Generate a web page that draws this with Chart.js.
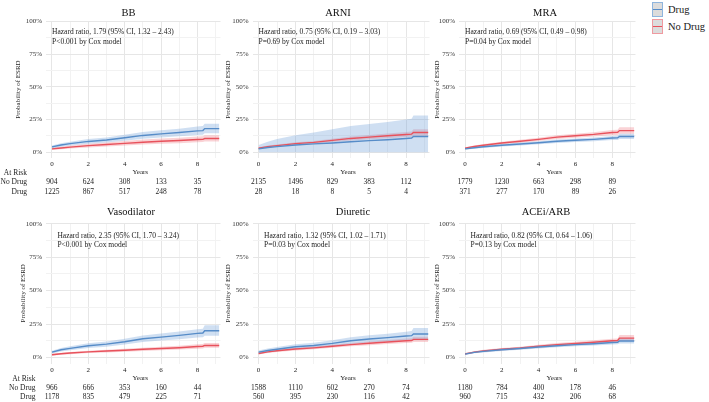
<!DOCTYPE html>
<html>
<head>
<meta charset="utf-8">
<script src="https://cdn.jsdelivr.net/npm/chart.js@4.4.1/dist/chart.umd.min.js"></script>
<style>
  body { margin: 0; background: #fff; width: 709px; height: 402px; position: relative; overflow: hidden; font-family: "Liberation Serif", serif; }
  canvas { position: absolute; }
  .key { position: absolute; left: 652px; width: 9px; height: 13px; background: #dcdcdc; }
  .key::after { content: ""; position: absolute; left: 0; right: 0; top: 6px; height: 1.3px; background: inherit; }
  .key.drug { top: 2px; border: 1px solid #8fb5dd; }
  .key.drug::after { background: rgb(86,140,200); }
  .key.nodrug { top: 19px; border: 1px solid #ef9aa0; }
  .key.nodrug::after { background: rgb(232,82,92); }
  .lab { position: absolute; left: 668px; font-size: 10.5px; color: #1a1a1a; line-height: 12px; }
</style>
</head>
<body>
<div class="key drug"></div><div class="lab" style="top:4px">Drug</div>
<div class="key nodrug"></div><div class="lab" style="top:21px">No Drug</div>
<script>
var years = [0, 0.5, 1, 2, 3, 4, 5, 6, 7, 8, 8.3, 8.4, 9.2];
var riskYears = [0, 2, 4, 6, 8];

var names = ["BB", "ARNI", "MRA", "Vasodilator", "Diuretic", "ACEi/ARB"];
var hrLines = [
  "Hazard ratio, 1.79 (95% CI, 1.32 \u2013 2.43)",
  "Hazard ratio, 0.75 (95% CI, 0.19 \u2013 3.03)",
  "Hazard ratio, 0.69 (95% CI, 0.49 \u2013 0.98)",
  "Hazard ratio, 2.35 (95% CI, 1.70 \u2013 3.24)",
  "Hazard ratio, 1.32 (95% CI, 1.02 \u2013 1.71)",
  "Hazard ratio, 0.82 (95% CI, 0.64 \u2013 1.06)"
];
var pLines = ["P<0.001 by Cox model", "P=0.69 by Cox model", "P=0.04 by Cox model",
              "P<0.001 by Cox model", "P=0.03 by Cox model", "P=0.13 by Cox model"];

// cumulative probability of ESRD, %
var bbDrug     = [4, 5.5, 6.5, 8.2, 9.3, 11, 12.8, 14, 15, 16.3, 16.5, 18, 18];
var bbDrugLo   = [3, 4.2, 5.1, 6.5, 7.4, 8.8, 10.3, 11.3, 12.1, 13.2, 13.4, 14.5, 14.5];
var bbDrugHi   = [5.1, 6.8, 8, 10, 11.3, 13.3, 15.4, 16.8, 18, 19.6, 20, 21.8, 21.8];
var bbNoDrug   = [2.5, 3.2, 3.8, 5, 5.8, 6.7, 7.6, 8.3, 8.9, 9.7, 9.8, 10.4, 10.4];
var bbNoDrugLo = [1.7, 2.2, 2.7, 3.6, 4.3, 5, 5.8, 6.4, 6.9, 7.6, 7.7, 8.2, 8.2];
var bbNoDrugHi = [3.3, 4.2, 5, 6.4, 7.4, 8.5, 9.6, 10.4, 11.1, 12, 12.1, 12.9, 12.9];

var arniDrug     = [2.5, 3.5, 4.2, 5.5, 6.3, 7, 8, 8.8, 9.5, 10.5, 10.8, 12, 12];
var arniDrugLo   = [0, 0, 0, 0, 0, 0, 0, 0, 0, 0, 0, 0, 0];
var arniDrugHi   = [5.5, 8, 10, 13, 15, 17.5, 20, 21.5, 23, 25, 25.5, 28, 28];
var arniNoDrug   = [3, 4.2, 5, 6.5, 7.5, 9, 10.5, 11.5, 12.5, 13.5, 13.8, 15, 15];
var arniNoDrugLo = [2.3, 3.4, 4.2, 5.5, 6.4, 7.7, 9, 9.9, 10.7, 11.5, 11.8, 12.5, 12.5];
var arniNoDrugHi = [3.7, 5, 5.8, 7.5, 8.6, 10.3, 12, 13.1, 14.3, 15.5, 15.8, 17.5, 17.5];

var mraDrug     = [2.5, 3.4, 4.1, 5.3, 6.2, 7.2, 8.3, 9.1, 9.8, 10.8, 11, 12, 12];
var mraDrugLo   = [1.8, 2.6, 3.2, 4.3, 5.1, 6, 7, 7.7, 8.3, 9.2, 9.3, 10, 10];
var mraDrugHi   = [3.2, 4.2, 5, 6.3, 7.3, 8.4, 9.6, 10.5, 11.3, 12.4, 12.7, 14, 14];
var mraNoDrug   = [3, 4.3, 5.3, 7, 8.3, 9.8, 11.5, 12.6, 13.6, 15, 15.2, 16.5, 16.5];
var mraNoDrugLo = [2.3, 3.5, 4.4, 6, 7.2, 8.6, 10.1, 11.1, 11.9, 13, 13.2, 14, 14];
var mraNoDrugHi = [3.7, 5.1, 6.2, 8, 9.4, 11, 12.9, 14.1, 15.3, 17, 17.2, 19, 19];

var vasoDrug     = [4, 5.8, 6.8, 8.8, 10, 11.8, 14, 15.2, 16.5, 18, 18.3, 20, 20];
var vasoDrugLo   = [3, 4.5, 5.4, 7.1, 8.1, 9.7, 11.6, 12.6, 13.7, 15, 15.2, 16.3, 16.3];
var vasoDrugHi   = [5.1, 7.1, 8.3, 10.6, 12, 14, 16.5, 17.9, 19.4, 21.1, 21.5, 24, 24];
var vasoNoDrug   = [2, 2.8, 3.3, 4.2, 4.8, 5.4, 6.1, 6.7, 7.3, 8.2, 8.4, 9, 9];
var vasoNoDrugLo = [1.3, 2, 2.5, 3.3, 3.8, 4.3, 4.9, 5.4, 5.9, 6.6, 6.8, 7.2, 7.2];
var vasoNoDrugHi = [2.7, 3.6, 4.1, 5.1, 5.8, 6.5, 7.3, 8, 8.7, 9.8, 10, 10.8, 10.8];

var diuDrug     = [4, 5.2, 6.2, 8, 9, 10.5, 12.5, 13.8, 14.8, 16, 16.3, 17.5, 17.5];
var diuDrugLo   = [2.8, 3.8, 4.7, 6.2, 7.1, 8.4, 10.1, 11.2, 12, 13, 13.2, 13.7, 13.7];
var diuDrugHi   = [5.3, 6.7, 7.8, 9.9, 11, 12.8, 15.1, 16.6, 17.8, 19.3, 19.7, 22, 22];
var diuNoDrug   = [3, 4.2, 5, 6.3, 7.2, 8.4, 9.6, 10.6, 11.6, 12.5, 12.7, 13.5, 13.5];
var diuNoDrugLo = [2.3, 3.4, 4.1, 5.3, 6.1, 7.2, 8.3, 9.2, 10.1, 10.9, 11, 11.5, 11.5];
var diuNoDrugHi = [3.7, 5, 5.9, 7.3, 8.3, 9.6, 10.9, 12, 13.1, 14.1, 14.4, 15.5, 15.5];

var aceDrug     = [2.5, 3.8, 4.6, 5.8, 6.7, 7.8, 8.8, 9.6, 10.3, 11.2, 11.4, 12.3, 12.3];
var aceDrugLo   = [1.9, 3.1, 3.8, 4.9, 5.7, 6.7, 7.6, 8.3, 8.9, 9.7, 9.9, 10.5, 10.5];
var aceDrugHi   = [3.1, 4.5, 5.4, 6.7, 7.7, 8.9, 10, 10.9, 11.7, 12.7, 12.9, 14.2, 14.2];
var aceNoDrug   = [2.7, 4, 4.9, 6.2, 7.1, 8.4, 9.6, 10.5, 11.4, 12.5, 12.7, 14.5, 14.5];
var aceNoDrugLo = [2.1, 3.3, 4.1, 5.3, 6.1, 7.3, 8.4, 9.2, 10, 11, 11.2, 12.3, 12.3];
var aceNoDrugHi = [3.3, 4.7, 5.7, 7.1, 8.1, 9.5, 10.8, 11.8, 12.8, 14, 14.2, 16.8, 16.8];

// numbers at risk
var bbRiskNoDrug   = [904, 624, 308, 133, 35];
var bbRiskDrug     = [1225, 867, 517, 248, 78];
var arniRiskNoDrug = [2135, 1496, 829, 383, 112];
var arniRiskDrug   = [28, 18, 8, 5, 4];
var mraRiskNoDrug  = [1779, 1230, 663, 298, 89];
var mraRiskDrug    = [371, 277, 170, 89, 26];
var vasoRiskNoDrug = [966, 666, 353, 160, 44];
var vasoRiskDrug   = [1178, 835, 479, 225, 71];
var diuRiskNoDrug  = [1588, 1110, 602, 270, 74];
var diuRiskDrug    = [560, 395, 230, 116, 42];
var aceRiskNoDrug  = [1180, 784, 400, 178, 46];
var aceRiskDrug    = [960, 715, 432, 206, 68];

var curves = [
  [bbDrug, bbDrugLo, bbDrugHi, bbNoDrug, bbNoDrugLo, bbNoDrugHi],
  [arniDrug, arniDrugLo, arniDrugHi, arniNoDrug, arniNoDrugLo, arniNoDrugHi],
  [mraDrug, mraDrugLo, mraDrugHi, mraNoDrug, mraNoDrugLo, mraNoDrugHi],
  [vasoDrug, vasoDrugLo, vasoDrugHi, vasoNoDrug, vasoNoDrugLo, vasoNoDrugHi],
  [diuDrug, diuDrugLo, diuDrugHi, diuNoDrug, diuNoDrugLo, diuNoDrugHi],
  [aceDrug, aceDrugLo, aceDrugHi, aceNoDrug, aceNoDrugLo, aceNoDrugHi]
];
var risks = [
  [bbRiskNoDrug, bbRiskDrug], [arniRiskNoDrug, arniRiskDrug], [mraRiskNoDrug, mraRiskDrug],
  [vasoRiskNoDrug, vasoRiskDrug], [diuRiskNoDrug, diuRiskDrug], [aceRiskNoDrug, aceRiskDrug]
];

// page geometry
var rows = [
  {top: 0, h: 200, plotT: 21, plotB: 158, titleY: 13.5, yearsY: 172.3, riskY: [173, 182.3, 191.7], riskRight: 27, annotX: 0, annotY: [91.7, 84.6]},
  {top: 200, h: 202, plotT: 223, plotB: 363.5, titleY: 212.5, yearsY: 377.7, riskY: [378.7, 387.7, 397], riskRight: 35.5, annotX: 0.3, annotY: [90.7, 83.7]}
];
var cols = [
  {left: 0, w: 222, plotL: 46, plotR: 220.5},
  {left: 222, w: 209, plotL: 252.5, plotR: 429.5},
  {left: 431, w: 214, plotL: 459, plotR: 635.5}
];
var yTitleX = [18, 228, 437, 22.7, 228, 437];
var titleX = [128.5, 338, 545, 131, 353, 546];

var blue = 'rgb(86,140,200)', blueBand = 'rgba(105,155,215,0.32)';
var red = 'rgb(232,82,92)', redBand = 'rgba(240,110,120,0.3)';
var serif = "'Liberation Serif', 'Times New Roman', serif";

Chart.defaults.font.family = serif;
Chart.defaults.color = '#333';

function pts(vals) {
  return years.map(function(t, i) { return {x: t, y: vals[i]}; });
}
function line(vals, color) {
  return {data: pts(vals), borderColor: color, borderWidth: 1.4, pointRadius: 0, fill: false, tension: 0};
}
function band(vals, color) {
  return {data: pts(vals), borderWidth: 0, pointRadius: 0, backgroundColor: color, fill: '+1', tension: 0};
}
function edge(vals) {
  return {data: pts(vals), borderWidth: 0, pointRadius: 0, fill: false, tension: 0};
}

var kmText = {
  id: 'kmText',
  afterDraw: function(chart, args, o) {
    var ctx = chart.ctx, xs = chart.scales.x, ys = chart.scales.y, ca = chart.chartArea;
    ctx.save();
    ctx.textBaseline = 'middle';
    ctx.fillStyle = '#111';
    ctx.textAlign = 'center';
    ctx.font = '10.5px ' + serif;
    ctx.fillText(o.title, o.titleX - o.left, o.titleY - o.top);

    ctx.fillStyle = '#1a1a1a';
    ctx.textAlign = 'left';
    ctx.font = '7.5px ' + serif;
    ctx.fillText(o.hr, xs.getPixelForValue(o.annotX), ys.getPixelForValue(o.annotY[0]));
    ctx.fillText(o.p, xs.getPixelForValue(o.annotX), ys.getPixelForValue(o.annotY[1]));

    ctx.fillStyle = '#222';
    ctx.textAlign = 'center';
    ctx.font = '7px ' + serif;
    ctx.fillText('Years', (ca.left + ca.right) / 2 + 7, o.yearsY - o.top);

    ctx.font = '7.5px ' + serif;
    riskYears.forEach(function(t, i) {
      var x = xs.getPixelForValue(t);
      ctx.fillText(String(o.noDrug[i]), x, o.riskY[1] - o.top);
      ctx.fillText(String(o.drug[i]), x, o.riskY[2] - o.top);
    });
    if (o.rowLabels) {
      ctx.textAlign = 'right';
      ctx.fillText('At Risk', o.riskRight - o.left, o.riskY[0] - o.top);
      ctx.fillText('No Drug', o.riskRight - o.left, o.riskY[1] - o.top);
      ctx.fillText('Drug', o.riskRight - o.left, o.riskY[2] - o.top);
    }
    ctx.restore();
  }
};

names.forEach(function(name, k) {
  var row = rows[Math.floor(k / 3)], col = cols[k % 3], c = curves[k];
  var cv = document.createElement('canvas');
  cv.width = col.w;
  cv.height = row.h;
  cv.style.left = col.left + 'px';
  cv.style.top = row.top + 'px';
  document.body.appendChild(cv);

  var padL = yTitleX[k] - col.left - 4.2;
  var yW = col.plotL - col.left - padL;
  var xH = row.top + row.h - row.plotB;

  new Chart(cv.getContext('2d'), {
    type: 'line',
    data: {
      datasets: [
        line(c[0], blue), line(c[3], red),
        band(c[2], blueBand), edge(c[1]),
        band(c[5], redBand), edge(c[4])
      ]
    },
    options: {
      responsive: false,
      animation: false,
      devicePixelRatio: 1,
      events: [],
      layout: {padding: {left: padL, right: col.left + col.w - col.plotR, top: row.plotT - row.top, bottom: 0}},
      scales: {
        x: {
          type: 'linear', min: -0.33, max: 9.27,
          afterBuildTicks: function(a) { a.ticks = [0, 1, 2, 3, 4, 5, 6, 7, 8, 9].map(function(v) { return {value: v}; }); },
          afterFit: function(a) { a.height = xH; a.paddingLeft = 0; a.paddingRight = 0; },
          border: {display: false},
          grid: {drawTicks: false, color: function(ctx) { return ctx.tick && ctx.tick.value % 2 === 0 ? '#e6e6e6' : '#f2f2f2'; }},
          ticks: {padding: 2.3, autoSkip: false, maxRotation: 0, font: {size: 7}, color: '#222',
                  callback: function(v) { return v % 2 === 0 && v <= 8 ? String(v) : ''; }}
        },
        y: {
          min: -4.5, max: 100.5,
          afterBuildTicks: function(a) { a.ticks = [0, 12.5, 25, 37.5, 50, 62.5, 75, 87.5, 100].map(function(v) { return {value: v}; }); },
          afterFit: function(a) { a.width = yW; a.paddingTop = 0; a.paddingBottom = 0; },
          border: {display: false},
          grid: {drawTicks: false, color: function(ctx) { return ctx.tick && ctx.tick.value % 25 === 0 ? '#e6e6e6' : '#f2f2f2'; }},
          ticks: {padding: 4, font: {size: 7}, color: '#333',
                  callback: function(v) { return v % 25 === 0 ? v + '%' : ''; }},
          title: {display: true, text: 'Probability of ESRD', padding: 0, font: {size: 7}, color: '#222'}
        }
      },
      plugins: {
        legend: {display: false},
        tooltip: {enabled: false},
        kmText: {
          title: name, titleX: titleX[k], titleY: row.titleY, left: col.left, top: row.top,
          hr: hrLines[k], p: pLines[k], annotX: row.annotX, annotY: row.annotY,
          yearsY: row.yearsY, riskY: row.riskY, riskRight: row.riskRight,
          noDrug: risks[k][0], drug: risks[k][1], rowLabels: k % 3 === 0
        }
      }
    },
    plugins: [kmText]
  });
});
</script>
</body>
</html>
